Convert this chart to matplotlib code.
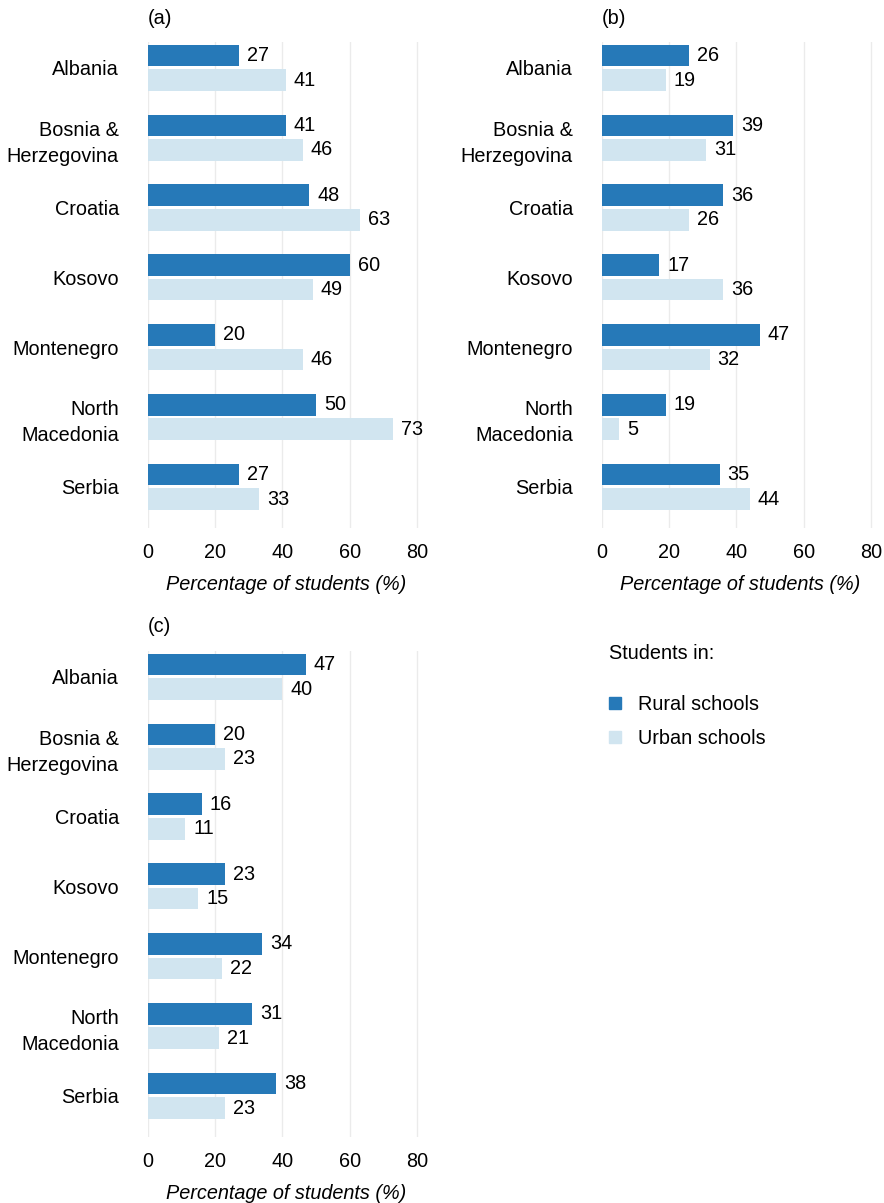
import matplotlib.pyplot as plt
import numpy as np
from matplotlib.patches import Patch

plt.rcParams['font.family'] = ['Liberation Sans', 'DejaVu Sans']

countries = ['Albania', 'Bosnia &\nHerzegovina', 'Croatia', 'Kosovo',
             'Montenegro', 'North\nMacedonia', 'Serbia']

rural_a = [27, 41, 48, 60, 20, 50, 27]
urban_a = [41, 46, 63, 49, 46, 73, 33]
rural_b = [26, 39, 36, 17, 47, 19, 35]
urban_b = [19, 31, 26, 36, 32, 5, 44]
rural_c = [47, 20, 16, 23, 34, 31, 38]
urban_c = [40, 23, 11, 15, 22, 21, 23]

panel_labels = ['(a)', '(b)', '(c)']
xticks = [0, 20, 40, 60, 80]

RURAL = '#2679b8'
URBAN = '#d1e5f0'
FS = 14.3

W, H = 884, 1203
fig = plt.figure(figsize=(W / 100, H / 100), dpi=100)


def add_panel(left_px, top_px, bottom_px, rural, urban, tag):
    ax = fig.add_axes([left_px / W, 1 - bottom_px / H,
                       (82 * 3.36) / W, (bottom_px - top_px) / H])
    y = np.arange(len(countries))
    off, h = 0.175, 0.31
    ax.barh(y - off, rural, height=h, color=RURAL, zorder=2)
    ax.barh(y + off, urban, height=h, color=URBAN, zorder=2)
    for yi, v in zip(y - off, rural):
        ax.text(v + 2.4, yi, str(v), va='center', ha='left', fontsize=FS)
    for yi, v in zip(y + off, urban):
        ax.text(v + 2.4, yi, str(v), va='center', ha='left', fontsize=FS)
    ax.set_xlim(0, 82)
    ax.set_ylim(6.59, -0.37)
    ax.set_xticks(xticks)
    ax.set_xticklabels([str(t) for t in xticks], fontsize=FS)
    ax.set_yticks(y)
    ax.set_yticklabels(countries, fontsize=FS, linespacing=1.5)
    for lab in ax.get_yticklabels():
        lab.set_multialignment('right')
    ax.tick_params(axis='y', length=0, pad=21)
    ax.tick_params(axis='x', length=0, pad=11)
    ax.grid(axis='x', color='#ebebeb', linewidth=1.0, zorder=0)
    for s in ax.spines.values():
        s.set_visible(False)
    ax.set_xlabel('Percentage of students (%)', fontsize=FS, style='italic',
                  labelpad=9)
    ax.text(0, 1.0 + 24 / (bottom_px - top_px), tag, transform=ax.transAxes,
            fontsize=FS, ha='left', va='center')
    return ax


add_panel(148, 42, 528, rural_a, urban_a, panel_labels[0])
add_panel(602, 42, 528, rural_b, urban_b, panel_labels[1])
add_panel(148, 651, 1137, rural_c, urban_c, panel_labels[2])

handles = [Patch(color=RURAL), Patch(color=URBAN)]
leg = fig.legend(handles, ['Rural schools', 'Urban schools'],
                 title='Students in:', loc='upper left',
                 bbox_to_anchor=(609 / W, 1 - 644 / H), frameon=False,
                 borderpad=0, borderaxespad=0, fontsize=FS, title_fontsize=FS,
                 handlelength=0.58, handleheight=0.58, handletextpad=0.9,
                 labelspacing=0.75)
leg._legend_box.align = 'left'
leg._legend_box.sep = 23

fig.savefig('out.png', dpi=100)
